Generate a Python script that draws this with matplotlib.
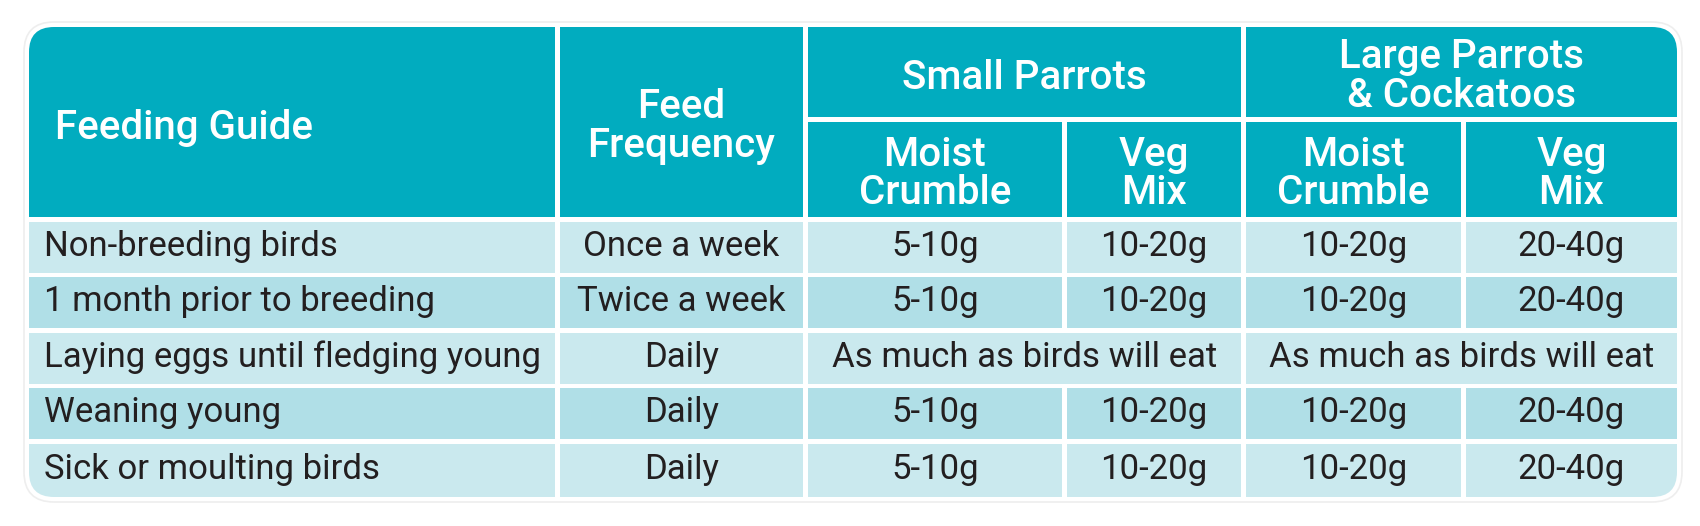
import matplotlib
matplotlib.use("Agg")
import matplotlib.pyplot as plt
from matplotlib.patches import Rectangle, FancyBboxPatch

# table content
stages = ["Non-breeding birds", "1 month prior to breeding",
          "Laying eggs until fledging young", "Weaning young",
          "Sick or moulting birds"]
frequency = ["Once a week", "Twice a week", "Daily", "Daily", "Daily"]
# None means the cell to the left spans over this one
small_moist = ["5-10g", "5-10g", "As much as birds will eat", "5-10g", "5-10g"]
small_veg = ["10-20g", "10-20g", None, "10-20g", "10-20g"]
large_moist = ["10-20g", "10-20g", "As much as birds will eat", "10-20g", "10-20g"]
large_veg = ["20-40g", "20-40g", None, "20-40g", "20-40g"]

groups = ["Small Parrots", "Large Parrots\n& Cockatoos"]
subheads = ["Moist\nCrumble", "Veg\nMix", "Moist\nCrumble", "Veg\nMix"]

HEAD = "#01acbf"
LIGHT = "#cae9ee"
DARK = "#b0dfe7"
INK = "#231f20"

# layout (pixels)
cols = [(29, 555), (560, 803), (808, 1062), (1067, 1241), (1246, 1461), (1466, 1677)]
rows = [(222, 273), (277, 328), (333, 384), (388, 439), (444, 497)]
top, mid1, mid2, head_bot = 27, 117, 122, 217
PITCH = 39

plt.rcParams['font.family'] = ['Roboto', 'DejaVu Sans']

fig = plt.figure(figsize=(17, 5.26), dpi=100)
ax = fig.add_axes([0, 0, 1, 1])
ax.set_xlim(0, 1700)
ax.set_ylim(526, 0)
ax.axis("off")

# soft outer frame
frame = FancyBboxPatch((24, 22), 1658, 480, boxstyle="round,pad=0,rounding_size=30",
                       fc="white", ec="#eeeeee", lw=1.2)
ax.add_patch(frame)

clip = FancyBboxPatch((cols[0][0], top), cols[-1][1] - cols[0][0], rows[-1][1] - top,
                      boxstyle="round,pad=0,rounding_size=25", fc="none", ec="none")
ax.add_patch(clip)


def cell(x0, x1, y0, y1, color):
    r = Rectangle((x0, y0), x1 - x0, y1 - y0, fc=color, ec="none")
    ax.add_patch(r)
    r.set_clip_path(clip)


def head_text(x, y0, y1, s, ha="center"):
    lines = s.split("\n")
    yc = (y0 + y1) / 2
    if len(lines) == 1:
        base = [yc + 17]
    else:
        base = [yc - 4, yc - 4 + PITCH]
    for b, line in zip(base, lines):
        ax.text(x, b, line, ha=ha, va="baseline", color="white",
                fontsize=29, fontweight="medium")


def body_text(x, y0, y1, s, ha="center"):
    ax.text(x, (y0 + y1) / 2 + 8.5, s, ha=ha, va="baseline", color=INK, fontsize=25)


# header
cell(cols[0][0], cols[0][1], top, head_bot, HEAD)
cell(cols[1][0], cols[1][1], top, head_bot, HEAD)
head_text(55, top, head_bot, "Feeding Guide", ha="left")
head_text(sum(cols[1]) / 2, top, head_bot, "Feed\nFrequency")
for g, (a, b) in enumerate([(2, 3), (4, 5)]):
    cell(cols[a][0], cols[b][1], top, mid1, HEAD)
    head_text((cols[a][0] + cols[b][1]) / 2, top, mid1, groups[g])
for i, s in enumerate(subheads):
    c = cols[i + 2]
    cell(c[0], c[1], mid2, head_bot, HEAD)
    head_text(sum(c) / 2, mid2, head_bot, s)

# body
for r, (y0, y1) in enumerate(rows):
    color = LIGHT if r % 2 == 0 else DARK
    cell(cols[0][0], cols[0][1], y0, y1, color)
    body_text(44, y0, y1, stages[r], ha="left")
    cell(cols[1][0], cols[1][1], y0, y1, color)
    body_text(sum(cols[1]) / 2, y0, y1, frequency[r])
    for a, (left, right) in [(2, (small_moist, small_veg)), (4, (large_moist, large_veg))]:
        if right[r] is None:
            x0, x1 = cols[a][0], cols[a + 1][1]
            cell(x0, x1, y0, y1, color)
            body_text((x0 + x1) / 2, y0, y1, left[r])
        else:
            for k, vals in enumerate((left, right)):
                c = cols[a + k]
                cell(c[0], c[1], y0, y1, color)
                body_text(sum(c) / 2, y0, y1, vals[r])

fig.savefig("out.png", dpi=100, facecolor="white")
